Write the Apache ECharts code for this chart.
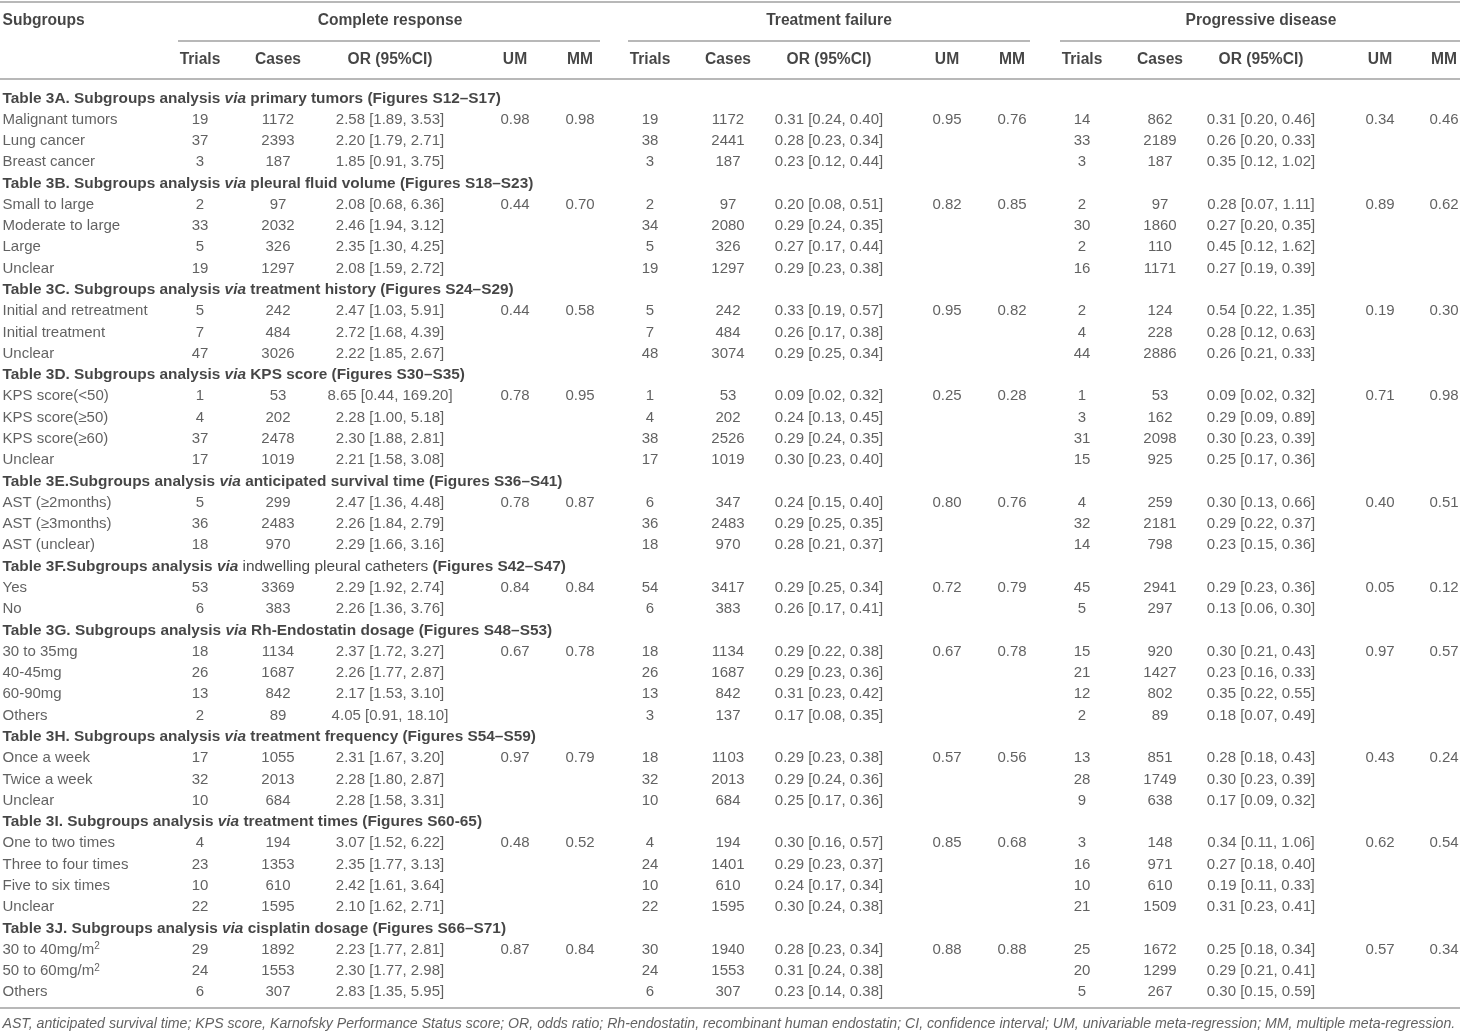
<!DOCTYPE html>
<html>
<head>
<meta charset="utf-8">
<title>Table 3 subgroup analysis</title>
<script src="https://cdn.jsdelivr.net/npm/echarts@6/dist/echarts.min.js"></script>
<style>
  html, body { margin: 0; padding: 0; background: #fff; }
  #main { width: 1460px; height: 1034px; }
</style>
</head>
<body>
<div id="main"></div>
<script>
var groups = ['Complete response', 'Treatment failure', 'Progressive disease'];
var colHeads = ['Trials', 'Cases', 'OR (95%CI)', 'UM', 'MM'];

var sectionTitles = [
  'Table 3A. Subgroups analysis {i|via} primary tumors (Figures S12–S17)',
  'Table 3B. Subgroups analysis {i|via} pleural fluid volume (Figures S18–S23)',
  'Table 3C. Subgroups analysis {i|via} treatment history (Figures S24–S29)',
  'Table 3D. Subgroups analysis {i|via} KPS score (Figures S30–S35)',
  'Table 3E.Subgroups analysis {i|via} anticipated survival time (Figures S36–S41)',
  'Table 3F.Subgroups analysis {i|via} {n|indwelling pleural catheters} (Figures S42–S47)',
  'Table 3G. Subgroups analysis {i|via} Rh-Endostatin dosage (Figures S48–S53)',
  'Table 3H. Subgroups analysis {i|via} treatment frequency (Figures S54–S59)',
  'Table 3I. Subgroups analysis {i|via} treatment times (Figures S60-65)',
  'Table 3J. Subgroups analysis {i|via} cisplatin dosage (Figures S66–S71)'
];
var sectionSizes = [3, 4, 3, 4, 3, 2, 4, 3, 4, 3];

var subgroups = [
  'Malignant tumors', 'Lung cancer', 'Breast cancer',
  'Small to large', 'Moderate to large', 'Large', 'Unclear',
  'Initial and retreatment', 'Initial treatment', 'Unclear',
  'KPS score(<50)', 'KPS score(≥50)', 'KPS score(≥60)', 'Unclear',
  'AST (≥2months)', 'AST (≥3months)', 'AST (unclear)',
  'Yes', 'No',
  '30 to 35mg', '40-45mg', '60-90mg', 'Others',
  'Once a week', 'Twice a week', 'Unclear',
  'One to two times', 'Three to four times', 'Five to six times', 'Unclear',
  '30 to 40mg/m{sup|2}', '50 to 60mg/m{sup|2}', 'Others'
];

// Complete response
var crTrials = [19, 37, 3, 2, 33, 5, 19, 5, 7, 47, 1, 4, 37, 17, 5, 36, 18, 53, 6, 18, 26, 13, 2, 17, 32, 10, 4, 23, 10, 22, 29, 24, 6];
var crCases = [1172, 2393, 187, 97, 2032, 326, 1297, 242, 484, 3026, 53, 202, 2478, 1019, 299, 2483, 970, 3369, 383, 1134, 1687, 842, 89, 1055, 2013, 684, 194, 1353, 610, 1595, 1892, 1553, 307];
var crOR = [
  '2.58 [1.89, 3.53]', '2.20 [1.79, 2.71]', '1.85 [0.91, 3.75]',
  '2.08 [0.68, 6.36]', '2.46 [1.94, 3.12]', '2.35 [1.30, 4.25]', '2.08 [1.59, 2.72]',
  '2.47 [1.03, 5.91]', '2.72 [1.68, 4.39]', '2.22 [1.85, 2.67]',
  '8.65 [0.44, 169.20]', '2.28 [1.00, 5.18]', '2.30 [1.88, 2.81]', '2.21 [1.58, 3.08]',
  '2.47 [1.36, 4.48]', '2.26 [1.84, 2.79]', '2.29 [1.66, 3.16]',
  '2.29 [1.92, 2.74]', '2.26 [1.36, 3.76]',
  '2.37 [1.72, 3.27]', '2.26 [1.77, 2.87]', '2.17 [1.53, 3.10]', '4.05 [0.91, 18.10]',
  '2.31 [1.67, 3.20]', '2.28 [1.80, 2.87]', '2.28 [1.58, 3.31]',
  '3.07 [1.52, 6.22]', '2.35 [1.77, 3.13]', '2.42 [1.61, 3.64]', '2.10 [1.62, 2.71]',
  '2.23 [1.77, 2.81]', '2.30 [1.77, 2.98]', '2.83 [1.35, 5.95]'
];
var crUM = ['0.98', '0.44', '0.44', '0.78', '0.78', '0.84', '0.67', '0.97', '0.48', '0.87'];
var crMM = ['0.98', '0.70', '0.58', '0.95', '0.87', '0.84', '0.78', '0.79', '0.52', '0.84'];

// Treatment failure
var tfTrials = [19, 38, 3, 2, 34, 5, 19, 5, 7, 48, 1, 4, 38, 17, 6, 36, 18, 54, 6, 18, 26, 13, 3, 18, 32, 10, 4, 24, 10, 22, 30, 24, 6];
var tfCases = [1172, 2441, 187, 97, 2080, 326, 1297, 242, 484, 3074, 53, 202, 2526, 1019, 347, 2483, 970, 3417, 383, 1134, 1687, 842, 137, 1103, 2013, 684, 194, 1401, 610, 1595, 1940, 1553, 307];
var tfOR = [
  '0.31 [0.24, 0.40]', '0.28 [0.23, 0.34]', '0.23 [0.12, 0.44]',
  '0.20 [0.08, 0.51]', '0.29 [0.24, 0.35]', '0.27 [0.17, 0.44]', '0.29 [0.23, 0.38]',
  '0.33 [0.19, 0.57]', '0.26 [0.17, 0.38]', '0.29 [0.25, 0.34]',
  '0.09 [0.02, 0.32]', '0.24 [0.13, 0.45]', '0.29 [0.24, 0.35]', '0.30 [0.23, 0.40]',
  '0.24 [0.15, 0.40]', '0.29 [0.25, 0.35]', '0.28 [0.21, 0.37]',
  '0.29 [0.25, 0.34]', '0.26 [0.17, 0.41]',
  '0.29 [0.22, 0.38]', '0.29 [0.23, 0.36]', '0.31 [0.23, 0.42]', '0.17 [0.08, 0.35]',
  '0.29 [0.23, 0.38]', '0.29 [0.24, 0.36]', '0.25 [0.17, 0.36]',
  '0.30 [0.16, 0.57]', '0.29 [0.23, 0.37]', '0.24 [0.17, 0.34]', '0.30 [0.24, 0.38]',
  '0.28 [0.23, 0.34]', '0.31 [0.24, 0.38]', '0.23 [0.14, 0.38]'
];
var tfUM = ['0.95', '0.82', '0.95', '0.25', '0.80', '0.72', '0.67', '0.57', '0.85', '0.88'];
var tfMM = ['0.76', '0.85', '0.82', '0.28', '0.76', '0.79', '0.78', '0.56', '0.68', '0.88'];

// Progressive disease
var pdTrials = [14, 33, 3, 2, 30, 2, 16, 2, 4, 44, 1, 3, 31, 15, 4, 32, 14, 45, 5, 15, 21, 12, 2, 13, 28, 9, 3, 16, 10, 21, 25, 20, 5];
var pdCases = [862, 2189, 187, 97, 1860, 110, 1171, 124, 228, 2886, 53, 162, 2098, 925, 259, 2181, 798, 2941, 297, 920, 1427, 802, 89, 851, 1749, 638, 148, 971, 610, 1509, 1672, 1299, 267];
var pdOR = [
  '0.31 [0.20, 0.46]', '0.26 [0.20, 0.33]', '0.35 [0.12, 1.02]',
  '0.28 [0.07, 1.11]', '0.27 [0.20, 0.35]', '0.45 [0.12, 1.62]', '0.27 [0.19, 0.39]',
  '0.54 [0.22, 1.35]', '0.28 [0.12, 0.63]', '0.26 [0.21, 0.33]',
  '0.09 [0.02, 0.32]', '0.29 [0.09, 0.89]', '0.30 [0.23, 0.39]', '0.25 [0.17, 0.36]',
  '0.30 [0.13, 0.66]', '0.29 [0.22, 0.37]', '0.23 [0.15, 0.36]',
  '0.29 [0.23, 0.36]', '0.13 [0.06, 0.30]',
  '0.30 [0.21, 0.43]', '0.23 [0.16, 0.33]', '0.35 [0.22, 0.55]', '0.18 [0.07, 0.49]',
  '0.28 [0.18, 0.43]', '0.30 [0.23, 0.39]', '0.17 [0.09, 0.32]',
  '0.34 [0.11, 1.06]', '0.27 [0.18, 0.40]', '0.19 [0.11, 0.33]', '0.31 [0.23, 0.41]',
  '0.25 [0.18, 0.34]', '0.29 [0.21, 0.41]', '0.30 [0.15, 0.59]'
];
var pdUM = ['0.34', '0.89', '0.19', '0.71', '0.40', '0.05', '0.97', '0.43', '0.62', '0.57'];
var pdMM = ['0.46', '0.62', '0.30', '0.98', '0.51', '0.12', '0.57', '0.24', '0.54', '0.34'];

var footnote = 'AST, anticipated survival time; KPS score, Karnofsky Performance Status score; OR, odds ratio; ' +
  'Rh-endostatin, recombinant human endostatin; CI, confidence interval; UM, univariable meta-regression; MM, multiple meta-regression.';

// ---- layout (x in page pixels, y in table rows) ----
var leftX = 2;
var colX = [
  [200, 278, 390, 515, 580],
  [650, 728, 829, 947, 1012],
  [1082, 1160, 1261, 1380, 1444]
];
var groupSpan = [[178, 600], [628, 1030], [1060, 1460]];
var rowTop = -4.62, rowBottom = 43.96;   // visible row range of the page
var headRow1 = -3.66, headRow2 = -1.83;
var ruleTop = -4.55, ruleGroup = -2.72, ruleHead = -0.93, ruleBottom = 42.73;
var footRow = 43.5;

var groupCols = [
  [crTrials, crCases, crOR, crUM, crMM],
  [tfTrials, tfCases, tfOR, tfUM, tfMM],
  [pdTrials, pdCases, pdOR, pdUM, pdMM]
];

var bodyCells = [], titleCells = [], headCells = [];
var leftLabel = { position: 'right', distance: 0 };

headCells.push({ value: [leftX, headRow1], name: 'Subgroups', label: leftLabel });
groups.forEach(function (g, gi) {
  headCells.push({ value: [colX[gi][2], headRow1], name: g });
  colHeads.forEach(function (h, ci) {
    headCells.push({ value: [colX[gi][ci], headRow2], name: h });
  });
});

var row = 0, d = 0;
sectionSizes.forEach(function (n, s) {
  titleCells.push({ value: [leftX, row], name: sectionTitles[s], label: leftLabel });
  row++;
  for (var k = 0; k < n; k++, d++, row++) {
    bodyCells.push({ value: [leftX, row], name: subgroups[d], label: leftLabel });
    groupCols.forEach(function (cols, gi) {
      bodyCells.push({ value: [colX[gi][0], row], name: String(cols[0][d]) });
      bodyCells.push({ value: [colX[gi][1], row], name: String(cols[1][d]) });
      bodyCells.push({ value: [colX[gi][2], row], name: cols[2][d] });
      if (k === 0) {
        bodyCells.push({ value: [colX[gi][3], row], name: cols[3][s] });
        bodyCells.push({ value: [colX[gi][4], row], name: cols[4][s] });
      }
    });
  }
});

var footCells = [{ value: [leftX, footRow], name: footnote, label: leftLabel }];

function hline(y, x0, x1) {
  return [{ coord: [x0, y] }, { coord: [x1, y] }];
}
var rules = [
  hline(ruleTop, 0, 1460),
  hline(ruleGroup, groupSpan[0][0], groupSpan[0][1]),
  hline(ruleGroup, groupSpan[1][0], groupSpan[1][1]),
  hline(ruleGroup, groupSpan[2][0], groupSpan[2][1]),
  hline(ruleHead, 0, 1460),
  hline(ruleBottom, 0, 1460)
];

var FONT = '"Liberation Sans", Arial, Helvetica, sans-serif';

function textSeries(data, style) {
  return {
    type: 'scatter',
    silent: true,
    symbolSize: 1,
    itemStyle: { color: 'rgba(0,0,0,0)' },
    data: data,
    label: {
      show: true,
      position: 'inside',
      formatter: function (p) { return p.name; },
      fontFamily: FONT,
      fontSize: style.fontSize,
      fontWeight: style.fontWeight,
      fontStyle: style.fontStyle || 'normal',
      color: style.color,
      rich: {
        i: { fontStyle: 'italic', fontWeight: style.fontWeight, fontFamily: FONT, fontSize: style.fontSize, color: style.color },
        n: { fontWeight: 'normal', fontFamily: FONT, fontSize: style.fontSize, color: style.color },
        sup: { fontSize: 10, verticalAlign: 'top', fontFamily: FONT, color: style.color, padding: [0, 0, 6, 0] }
      }
    }
  };
}

var myChart = echarts.init(document.getElementById('main'));

var option = {
  animation: false,
  backgroundColor: '#ffffff',
  grid: { left: 0, right: 0, top: 0, bottom: 0 },
  xAxis: { type: 'value', min: 0, max: 1460, show: false },
  yAxis: { type: 'value', min: rowTop, max: rowBottom, inverse: true, show: false },
  series: [
    textSeries(headCells, { fontSize: 15.6, fontWeight: 'bold', color: '#161616' }),
    textSeries(titleCells, { fontSize: 15.4, fontWeight: 'bold', color: '#161616' }),
    textSeries(bodyCells, { fontSize: 15, fontWeight: 'normal', color: '#3a3a3a' }),
    textSeries(footCells, { fontSize: 14.15, fontWeight: 'normal', fontStyle: 'italic', color: '#3a3a3a' }),
    {
      type: 'scatter',
      silent: true,
      data: [],
      markLine: {
        silent: true,
        symbol: 'none',
        label: { show: false },
        lineStyle: { color: '#a0a0a0', width: 1.5, type: 'solid' },
        data: rules
      }
    }
  ]
};

myChart.setOption(option);
</script>
</body>
</html>
